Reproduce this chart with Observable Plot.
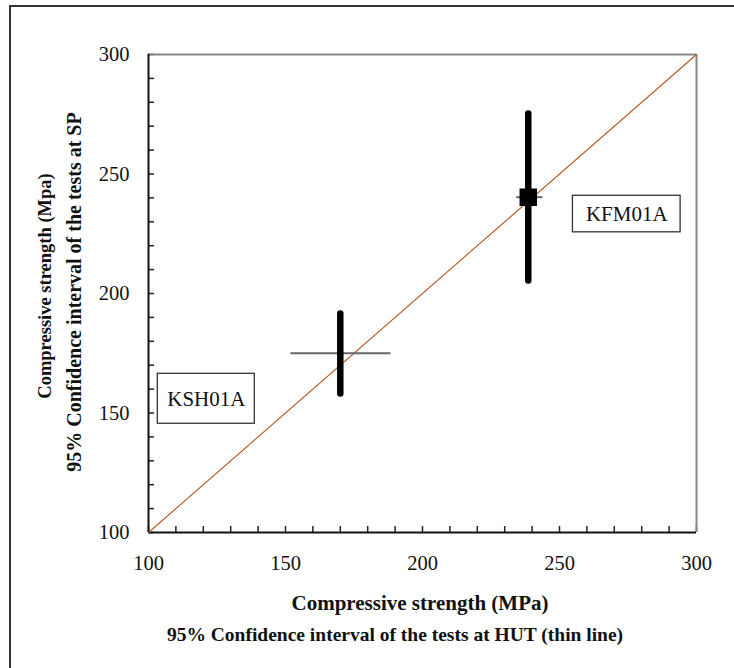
<!DOCTYPE html>
<html>
<head>
<meta charset="utf-8">
<script src="https://cdn.jsdelivr.net/npm/d3@7"></script>
<script src="https://cdn.jsdelivr.net/npm/@observablehq/plot@0.6"></script>
<style>
  html, body { margin: 0; padding: 0; background: #fff; }
  #wrap { position: relative; width: 734px; height: 668px; overflow: hidden; }
  #border { position: absolute; left: 9px; top: 5px; width: 760px; height: 700px;
            border-left: 2px solid #333; border-top: 2px solid #333; pointer-events: none; }
  #chart { position: absolute; left: 0; top: 0; }
</style>
</head>
<body>
<div id="wrap"><div id="chart"></div><div id="border"></div></div>
<script>
// ---- data ----
const samples = ["KSH01A", "KFM01A"];
const hutMean = [170, 238.6];          // x: HUT mean (MPa)
const hutLow = [151.8, 234.2];         // thin line (HUT CI)
const hutHigh = [188.3, 243.8];
const spMean = [175, 240.3];           // y: SP mean (MPa)
const spLow = [158.2, 205.4];          // thick line (SP CI)
const spHigh = [191.6, 275.3];
const markerSymbol = [null, "square"]; // only KFM01A shows a square marker

const diagX = [100, 300];
const diagY = [100, 300];

const labelText = ["KSH01A", "KFM01A"];
const labelX1 = [103.4, 254.9];
const labelX2 = [138.8, 294.2];
const labelY1 = [145.5, 225.6];
const labelY2 = [166.4, 240.9];

const majorTicks = [100, 150, 200, 250, 300];
const minorTicks = d3.range(100, 301, 10);

const xTitle = ["Compressive strength (MPa)", "95% Confidence interval of the tests at HUT (thin line)"];
const yTitle = ["Compressive strength (Mpa)", "95% Confidence interval of the tests at SP"];

// ---- tables ----
const pts = samples.map((s, i) => ({
  s, x: hutMean[i], x1: hutLow[i], x2: hutHigh[i],
  y: spMean[i], y1: spLow[i], y2: spHigh[i], sym: markerSymbol[i]
}));
const diag = diagX.map((x, i) => ({x, y: diagY[i]}));
const labels = labelText.map((t, i) => ({
  t, x1: labelX1[i], x2: labelX2[i], y1: labelY1[i], y2: labelY2[i],
  cx: (labelX1[i] + labelX2[i]) / 2, cy: (labelY1[i] + labelY2[i]) / 2
}));

const font = "'Liberation Serif', 'Times New Roman', serif";
const W = 734, H = 668, mL = 148, mR = 38, mT = 54, mB = 136;

const chart = Plot.plot({
  width: W,
  height: H,
  marginLeft: mL,
  marginRight: mR,
  marginTop: mT,
  marginBottom: mB,
  style: { fontFamily: font, background: "transparent", overflow: "visible" },
  x: { domain: [100, 300] },
  y: { domain: [100, 300] },
  marks: [
    // inner tick marks
    Plot.axisX({ ticks: minorTicks, tickSize: -6, tickFormat: () => "", stroke: "#222", strokeWidth: 1.5, label: null }),
    Plot.axisY({ ticks: minorTicks, tickSize: -6, tickFormat: () => "", stroke: "#222", strokeWidth: 1.5, label: null }),
    // tick labels
    Plot.axisX({ ticks: majorTicks, tickSize: 0, tickPadding: 23, fontSize: 20.5, fill: "#111", label: null }),
    Plot.axisY({ ticks: majorTicks, tickSize: 0, tickPadding: 19, fontSize: 20.5, fill: "#111", label: null }),
    // plot area frame
    Plot.ruleY([300], { stroke: "#888", strokeWidth: 2 }),
    Plot.ruleX([300], { stroke: "#888", strokeWidth: 2 }),
    Plot.ruleX([100], { stroke: "#111", strokeWidth: 2 }),
    Plot.ruleY([100], { stroke: "#111", strokeWidth: 2 }),
    // 1:1 line
    Plot.line(diag, { x: "x", y: "y", stroke: "#b9561f", strokeWidth: 1.1 }),
    // HUT thin lines
    Plot.link(pts, { x1: "x1", x2: "x2", y1: "y", y2: "y", stroke: "#666", strokeWidth: 2 }),
    // SP thick lines
    Plot.link(pts, { x1: "x", x2: "x", y1: "y1", y2: "y2", stroke: "#000", strokeWidth: 6.5, strokeLinecap: "round" }),
    // marker
    Plot.dot(pts.filter(d => d.sym), { x: "x", y: "y", symbol: "square", r: 9, fill: "#000", stroke: "#000" }),
    // label boxes
    Plot.rect(labels, { x1: "x1", x2: "x2", y1: "y1", y2: "y2", fill: "#fff", stroke: "#333", strokeWidth: 1.3 }),
    Plot.text(labels, { x: "cx", y: "cy", text: "t", fontSize: 21, fill: "#111" })
  ]
});

// axis titles (two lines each)
const svg = d3.select(chart);
const tg = svg.append("g").attr("font-family", font).attr("font-weight", "bold").attr("fill", "#111").attr("text-anchor", "middle");
tg.selectAll("text.xt").data(xTitle).join("text").attr("class", "xt")
  .attr("font-size", (d, i) => i === 0 ? 21 : 19.5)
  .attr("x", (d, i) => i === 0 ? 420 : 395).attr("y", (d, i) => 610 + i * 31).text(d => d);
tg.selectAll("text.yt").data(yTitle).join("text").attr("class", "yt")
  .attr("font-size", (d, i) => i === 0 ? 18.5 : 20)
  .attr("transform", (d, i) => `translate(${51 + i * 30},${i === 0 ? 286 : 292}) rotate(-90)`).text(d => d);

document.getElementById("chart").appendChild(chart);
</script>
</body>
</html>
